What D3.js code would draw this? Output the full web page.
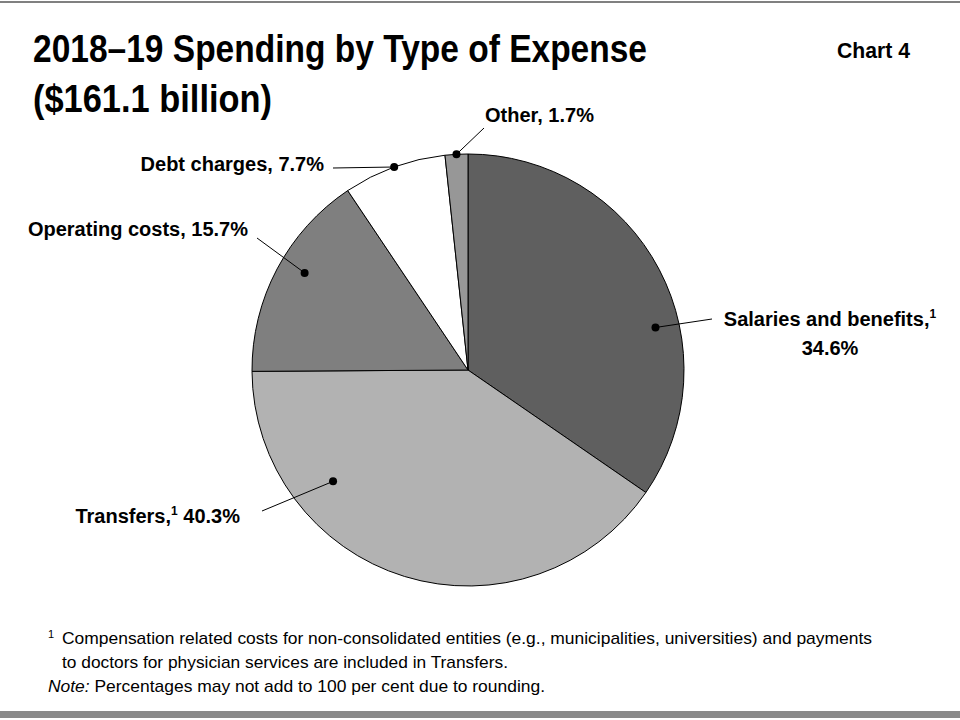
<!DOCTYPE html>
<html>
<head>
<meta charset="utf-8">
<script src="https://cdn.jsdelivr.net/npm/d3@7"></script>
<style>
  body { margin: 0; background: #fff; }
  text { font-family: "Liberation Sans", Arial, sans-serif; fill: #000; }
</style>
</head>
<body>
<div id="chart"></div>
<script>
// 2018-19 spending by type of expense, per cent of $161.1 billion
var categories = ["Salaries and benefits", "Transfers", "Operating costs", "Debt charges", "Other"];
var shares = [34.6, 40.3, 15.7, 7.7, 1.7];
var footnoted = [true, true, false, false, false];
var sliceColors = ["#5f5f5f", "#b2b2b2", "#7f7f7f", "#ffffff", "#979797"];

var width = 960, height = 720;
var cx = 468, cy = 370, radius = 216;

var svg = d3.select("#chart").append("svg")
    .attr("width", width)
    .attr("height", height);

// frame lines
svg.append("rect").attr("x", 0).attr("y", 1).attr("width", width).attr("height", 2).attr("fill", "#808080");
svg.append("rect").attr("x", 0).attr("y", 711).attr("width", width).attr("height", 7).attr("fill", "#8a8a8a");

// title
svg.append("text")
    .attr("x", 33).attr("y", 62)
    .attr("textLength", 614).attr("lengthAdjust", "spacingAndGlyphs")
    .style("font-size", "39px").style("font-weight", "bold")
    .text("2018–19 Spending by Type of Expense");
svg.append("text")
    .attr("x", 33).attr("y", 112)
    .attr("textLength", 239).attr("lengthAdjust", "spacingAndGlyphs")
    .style("font-size", "39px").style("font-weight", "bold")
    .text("($161.1 billion)");
svg.append("text")
    .attr("x", 910).attr("y", 58)
    .attr("text-anchor", "end")
    .attr("textLength", 73).attr("lengthAdjust", "spacingAndGlyphs")
    .style("font-size", "22px").style("font-weight", "bold")
    .text("Chart 4");

// pie
var pie = d3.pie().sort(null).value(function(d){ return d; });
var arcs = pie(shares);
var arc = d3.arc().innerRadius(0).outerRadius(radius);

var g = svg.append("g").attr("transform", "translate(" + cx + "," + cy + ")");

g.selectAll(".slice")
    .data(arcs)
  .enter().append("path")
    .attr("class", "slice")
    .attr("d", arc)
    .attr("fill", function(d, i){ return sliceColors[i]; })
    .attr("stroke", "#000")
    .attr("stroke-width", 1);

// label layout: where in the slice the dot sits (t along the slice, r as share of radius),
// where the leader line ends and where the text goes
var labelLayout = [
  {t: 0.62, r: 0.89, lx: 712, ly: 319, tx: 830, ty: 326, anchor: "middle", twoLines: true},
  {t: 0.73, r: 0.81, lx: 262, ly: 511, tx: 240, ty: 523, anchor: "end"},
  {t: 0.55, r: 0.88, lx: 257, ly: 238, tx: 248, ty: 236, anchor: "end"},
  {t: 0.50, r: 1.00, lx: 333, ly: 168, tx: 324, ty: 171, anchor: "end"},
  {t: 0.50, r: 1.00, lx: 484, ly: 128, tx: 485, ty: 122, anchor: "start"}
];

var dots = arcs.map(function(a, i){
  var L = labelLayout[i];
  var ang = a.startAngle + (a.endAngle - a.startAngle) * L.t;
  return {x: cx + radius * L.r * Math.sin(ang), y: cy - radius * L.r * Math.cos(ang)};
});

svg.selectAll(".leader")
    .data(dots)
  .enter().append("line")
    .attr("class", "leader")
    .attr("x1", function(d){ return d.x; })
    .attr("y1", function(d){ return d.y; })
    .attr("x2", function(d, i){ return labelLayout[i].lx; })
    .attr("y2", function(d, i){ return labelLayout[i].ly; })
    .attr("stroke", "#000")
    .attr("stroke-width", 1);

svg.selectAll(".dot")
    .data(dots)
  .enter().append("circle")
    .attr("class", "dot")
    .attr("cx", function(d){ return d.x; })
    .attr("cy", function(d){ return d.y; })
    .attr("r", 4)
    .attr("fill", "#000");

var fmt = function(v){ return v.toFixed(1) + "%"; };

categories.forEach(function(name, i){
  var L = labelLayout[i];
  var t = svg.append("text")
      .attr("x", L.tx).attr("y", L.ty)
      .attr("text-anchor", L.anchor)
      .style("font-size", "20px").style("font-weight", "bold");
  if (L.twoLines) {
    t.append("tspan").text(name + ",");
    t.append("tspan").attr("dy", -8).style("font-size", "12px").text("1");
    svg.append("text")
      .attr("x", L.tx).attr("y", L.ty + 29)
      .attr("text-anchor", "middle")
      .style("font-size", "20px").style("font-weight", "bold")
      .text(fmt(shares[i]));
  } else if (footnoted[i]) {
    t.append("tspan").text(name + ",");
    t.append("tspan").attr("dy", -8).style("font-size", "12px").text("1");
    t.append("tspan").attr("dy", 8).text(" " + fmt(shares[i]));
  } else {
    t.text(name + ", " + fmt(shares[i]));
  }
});

// footnotes
svg.append("text")
    .attr("x", 48).attr("y", 638)
    .style("font-size", "11px")
    .text("1");
svg.append("text")
    .attr("x", 62).attr("y", 644)
    .attr("textLength", 810).attr("lengthAdjust", "spacingAndGlyphs")
    .style("font-size", "17px")
    .text("Compensation related costs for non-consolidated entities (e.g., municipalities, universities) and payments");
svg.append("text")
    .attr("x", 62).attr("y", 668)
    .attr("textLength", 446).attr("lengthAdjust", "spacingAndGlyphs")
    .style("font-size", "17px")
    .text("to doctors for physician services are included in Transfers.");
var note = svg.append("text")
    .attr("x", 48).attr("y", 692)
    .attr("textLength", 497).attr("lengthAdjust", "spacingAndGlyphs")
    .style("font-size", "17px");
note.append("tspan").style("font-style", "italic").text("Note:");
note.append("tspan").text(" Percentages may not add to 100 per cent due to rounding.");
</script>
</body>
</html>
